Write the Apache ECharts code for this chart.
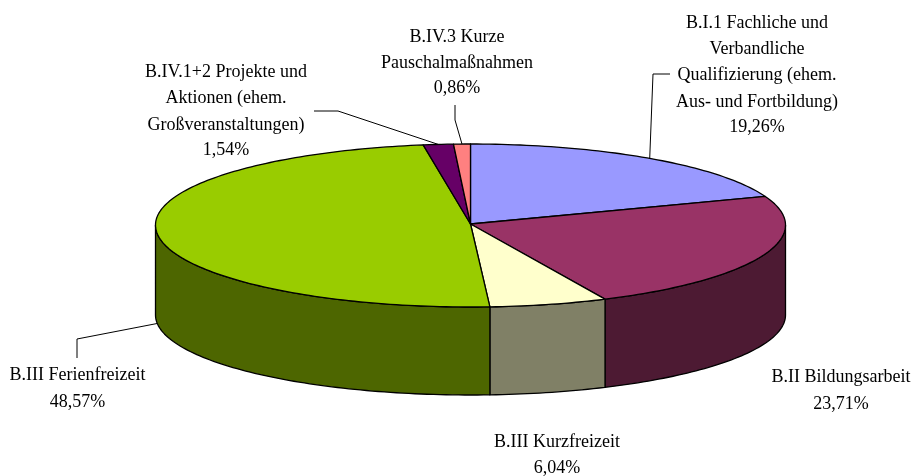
<!DOCTYPE html>
<html><head><meta charset="utf-8">
<style>html,body{margin:0;padding:0;background:#fff}#c{width:913px;height:476px}</style>
<script src="https://cdn.jsdelivr.net/npm/echarts@6/dist/echarts.min.js"></script>
</head><body><div id="c"></div>
<script>
var categories = [
  ['B.I.1 Fachliche und','Verbandliche','Qualifizierung (ehem.','Aus- und Fortbildung)'],
  ['B.II Bildungsarbeit'],
  ['B.III Kurzfreizeit'],
  ['B.III Ferienfreizeit'],
  ['B.IV.1+2 Projekte und','Aktionen (ehem.','Großveranstaltungen)'],
  ['B.IV.3 Kurze','Pauschalmaßnahmen']
];
var values = [19.26, 23.71, 6.04, 48.57, 1.54, 0.86];

var topColors  = ['#9999FF','#993366','#FFFFCC','#99CC00','#660066','#FF8080'];
var sideColors = ['#4D4D80','#4D1A33','#808066','#4D6600','#330033','#804040'];

var CX = 470.5, CY = 225, RX = 315, RY_BACK = 81, RY_FRONT = 82, DEPTH = 90, DEPTH_FLATTEN = 2;
var FONT = '18px "Liberation Serif","Times New Roman",serif';
// label block placement: centre x, line y positions, leader elbow points
var labelLayout = [
  {x:757, y:[23,49,75,102,127], leader:[[653,74],[670,74]], rim:false},
  {x:841, y:[377,404], leader:null},
  {x:557, y:[442,468], leader:null},
  {x:77.5,y:[375,402], leader:[[77,339],[77,358]], rim:true},
  {x:226, y:[72,98,125,150], leader:[[338,111],[314,111]], rim:false},
  {x:457, y:[37,63,88], leader:[[455,120],[455,105]], rim:false}
];

var total = values.reduce(function(a,b){return a+b;},0);
function pt(a, lower){
  var c = Math.cos(a);
  var dy = lower ? DEPTH + DEPTH_FLATTEN*Math.min(c,0) : 0;
  return [CX + RX*Math.sin(a), CY - c*(c>=0?RY_BACK:RY_FRONT) + dy];
}
function arc(a0,a1,lower){
  var n = Math.max(2,Math.ceil((a1-a0)/0.02)), out=[];
  for(var i=0;i<=n;i++) out.push(pt(a0+(a1-a0)*i/n,lower));
  return out;
}
var starts=[], run=0;
values.forEach(function(v){starts.push(run); run+=v;});

function poly(points,fill){
  return {type:'polygon',shape:{points:points},style:{fill:fill,stroke:'#000',lineWidth:1.3,lineJoin:'round'}};
}
function slicePhase(phase){
  return function(params,api){
    var i = params.dataIndex, v = api.value(1), st = api.value(2);
    var a0 = st/total*2*Math.PI, a1 = (st+v)/total*2*Math.PI;
    if(phase==='side'){
      var lo=Math.max(a0,Math.PI/2), hi=Math.min(a1,Math.PI*1.5);
      if(hi<=lo) return {type:'group',children:[]};
      return poly(arc(lo,hi,false).concat(arc(lo,hi,true).reverse()),sideColors[i]);
    }
    if(phase==='top'){
      return poly([[CX,CY-1]].concat(arc(a0,a1,false)),topColors[i]);
    }
    var mid=(a0+a1)/2, L=labelLayout[i], kids=[];
    if(L.leader){
      var anchor=pt(mid,L.rim);
      kids.push({type:'polyline',shape:{points:[anchor].concat(L.leader)},style:{fill:null,stroke:'#000',lineWidth:1}});
    }
    var lines=categories[i].concat([v.toFixed(2).replace('.',',')+'%']);
    lines.forEach(function(t,k){
      kids.push({type:'text',style:{text:t,x:L.x,y:L.y[k],font:FONT,fill:'#000',align:'center',verticalAlign:'middle'}});
    });
    return {type:'group',children:kids};
  };
}
var rows = values.map(function(v,i){return [i,v,starts[i]];});
function series(phase,z){
  return {type:'custom',coordinateSystem:'none',renderItem:slicePhase(phase),data:rows,z:z,silent:true,animation:false,clip:false};
}
var chart = echarts.init(document.getElementById('c'));
chart.setOption({
  animation:false,
  backgroundColor:'#fff',
  series:[series('side',1),series('top',2),series('label',3)]
});
</script></body></html>
